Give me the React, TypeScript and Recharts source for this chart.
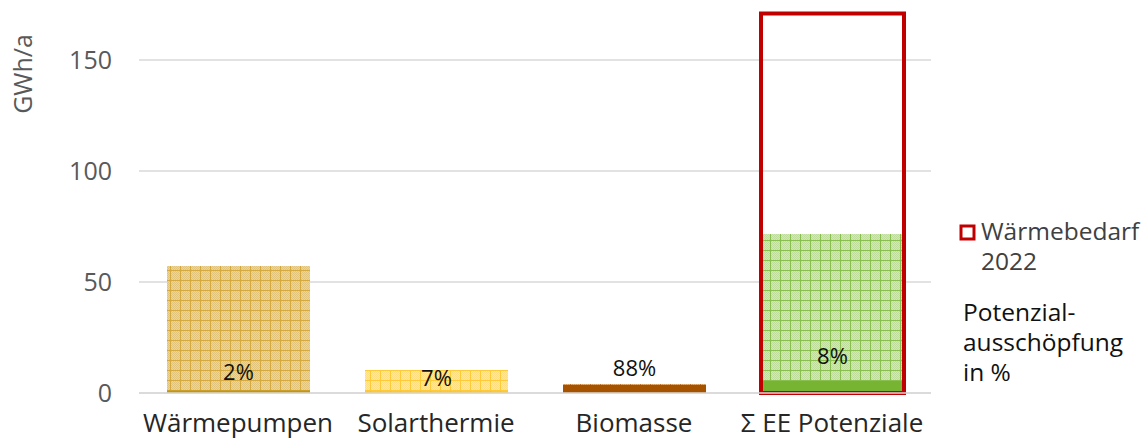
import React from "react";
import { ComposedChart, Bar, XAxis, YAxis, CartesianGrid, Cell, LabelList } from "recharts";

const categories = ["Wärmepumpen", "Solarthermie", "Biomasse", "Σ EE Potenziale"];
const potenzial = [57.2, 10.4, 4.05, 71.65];
const genutzt = [1.1, 0.75, 3.55, 5.4];
const waermebedarf = [null, null, null, 171];
const anteil = ["2%", "7%", "88%", "8%"];
const yTicks = [0, 50, 100, 150];

const data = categories.map((name, i) => ({
  name,
  potenzial: potenzial[i],
  genutzt: genutzt[i],
  bedarf: waermebedarf[i],
  anteil: anteil[i],
}));

// hatch look of the potential bars: fine checker + 10px grid
const patterns = [
  { a: "#ecd59c", b: "#e1c57f", line: "#d4aa40" },
  { a: "#ffe8a8", b: "#ffdd80", line: "#ffca38" },
  { a: "#e2b27e", b: "#d49a5c", line: "#b8702a" },
  { a: "#d2e8ba", b: "#bfdc9e", line: "#88bf4e" },
];
const solid = ["#c4960c", "#ffc000", "#a65300", "#77b431"];
const labelLift = [20, 14, 18, 26];
const BAR = 143;
const TOP = 4.5;

const W = 1144;
const H = 443;

function PercentLabel(p: any) {
  const vb = p.viewBox || p;
  const i = p.index ?? 0;
  return (
    <text
      x={vb.x + vb.width / 2}
      y={vb.y - labelLift[i]}
      textAnchor="middle"
      dominantBaseline="central"
      fontSize={22}
      fill="#111"
    >
      {p.value}
    </text>
  );
}

// skip the line recharts adds at the plot's upper edge
function GridLine(p: any) {
  if (Math.abs(p.y1 - TOP) < 1) return <g key={p.key} />;
  return <line key={p.key} x1={p.x1} x2={p.x2} y1={p.y1} y2={p.y2} stroke="#d9d9d9" strokeWidth={1.5} />;
}

export default function App() {
  return (
    <div style={{ position: "absolute", left: 0, top: 0, width: W, height: H, fontFamily: "'Open Sans', sans-serif", background: "#fff" }}>
      <svg width={W} height={H} style={{ position: "absolute", left: 0, top: 0, pointerEvents: "none", zIndex: 2 }}>
        <defs>
          {patterns.map((p, i) => (
            <React.Fragment key={i}>
              <pattern id={`chk${i}`} width="2" height="2" patternUnits="userSpaceOnUse">
                <rect width="2" height="2" fill={p.a} />
                <rect width="1" height="1" fill={p.b} />
                <rect x="1" y="1" width="1" height="1" fill={p.b} />
              </pattern>
              <pattern id={`hatch${i}`} width="10" height="10" patternUnits="userSpaceOnUse">
                <rect width="10" height="10" fill={`url(#chk${i})`} />
                <path d="M0 0.5H10M0.5 0V10" stroke={p.line} strokeWidth="1" />
              </pattern>
            </React.Fragment>
          ))}
        </defs>
        <text transform="translate(32,74) rotate(-90)" textAnchor="middle" fontSize={25} fill="#595959">
          GWh/a
        </text>
        <rect x={961} y={226} width={13} height={13} fill="none" stroke="#c00000" strokeWidth={3} />
        <text x={981} y={240} fontSize={24.5} fill="#404040">Wärmebedarf</text>
        <text x={981} y={270} fontSize={24.5} fill="#404040">2022</text>
        <text x={963} y={321} fontSize={24.5} fill="#111">Potenzial-</text>
        <text x={963} y={351} fontSize={24.5} fill="#111">ausschöpfung</text>
        <text x={963} y={381} fontSize={24.5} fill="#111">in %</text>
      </svg>
      <ComposedChart
        width={W}
        height={H}
        data={data}
        barGap={-BAR}
        margin={{ top: TOP, right: 213, left: 0, bottom: 0 }}
      >
        <CartesianGrid vertical={false} horizontal={GridLine} stroke="#d9d9d9" strokeWidth={1.5} />
        <XAxis
          dataKey="name"
          height={50}
          axisLine={{ stroke: "#d9d9d9", strokeWidth: 1.5 }}
          tickLine={false}
          tickMargin={15}
          tick={{ fontSize: 26, fill: "#262626" }}
          interval={0}
        />
        <YAxis
          domain={[0, 175]}
          ticks={yTicks}
          width={139}
          axisLine={false}
          tickLine={false}
          tickMargin={21}
          tick={{ fontSize: 25, fill: "#595959" }}
        />
        <Bar dataKey="potenzial" barSize={BAR} isAnimationActive={false}>
          {data.map((_, i) => (
            <Cell key={i} fill={`url(#hatch${i})`} />
          ))}
        </Bar>
        <Bar dataKey="genutzt" barSize={BAR} isAnimationActive={false}>
          {data.map((_, i) => (
            <Cell key={i} fill={solid[i]} />
          ))}
          <LabelList dataKey="anteil" content={PercentLabel} />
        </Bar>
        <Bar
          dataKey="bedarf"
          barSize={BAR}
          fill="none"
          stroke="#c00000"
          strokeWidth={4}
          isAnimationActive={false}
        />
      </ComposedChart>
    </div>
  );
}
